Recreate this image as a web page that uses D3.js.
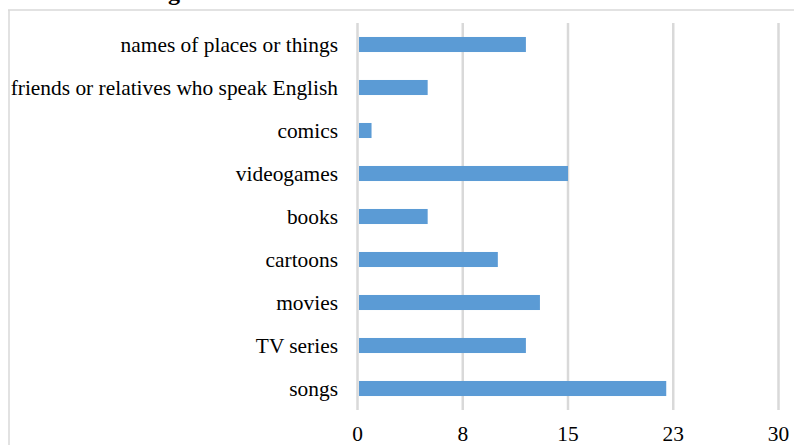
<!DOCTYPE html>
<html>
<head>
<meta charset="utf-8">
<script src="https://cdn.jsdelivr.net/npm/d3@7"></script>
<style>
  html, body { margin: 0; padding: 0; background: #fff; }
  svg { display: block; }
  text { font-family: "Liberation Serif", "Times New Roman", serif; fill: #000; }
</style>
</head>
<body>
<svg id="chart" width="794" height="445"></svg>
<script>
// Sources of English exposure (top to bottom)
const categories = [
  "names of places or things",
  "friends or relatives who speak English",
  "comics",
  "videogames",
  "books",
  "cartoons",
  "movies",
  "TV series",
  "songs"
];
const values = [12, 5, 1, 15, 5, 10, 13, 12, 22];
const tickValues = [0, 7.5, 15, 22.5, 30];
const tickLabels = ["0", "8", "15", "23", "30"];

const svg = d3.select("#chart");
const gridColor = "#d9d9d9";
const barColor = "#5b9bd5";

// chart frame (top and left edges visible)
svg.append("line")
  .attr("x1", 8).attr("x2", 794).attr("y1", 10).attr("y2", 10)
  .attr("stroke", gridColor).attr("stroke-width", 1.5);
svg.append("line")
  .attr("x1", 9).attr("x2", 9).attr("y1", 10).attr("y2", 445)
  .attr("stroke", gridColor).attr("stroke-width", 1.5);

// title, mostly above the visible area
svg.append("text")
  .attr("x", 168).attr("y", 0)
  .attr("font-weight", "bold").attr("font-size", 24)
  .text("g");

const x = d3.scaleLinear().domain([0, 30]).range([357.5, 778.5]);
const y = d3.scaleBand().domain(categories).range([23, 410]).paddingInner(0.65).paddingOuter(0.325);

// vertical gridlines
svg.append("g").selectAll("line")
  .data(tickValues)
  .join("line")
  .attr("x1", d => x(d)).attr("x2", d => x(d))
  .attr("y1", 23).attr("y2", 410)
  .attr("stroke", gridColor).attr("stroke-width", 2.5);

// bars
svg.append("g").selectAll("rect")
  .data(values)
  .join("rect")
  .attr("x", x(0) + 1.5)
  .attr("y", (d, i) => y(categories[i]))
  .attr("width", d => x(d) - x(0) - 1.5)
  .attr("height", y.bandwidth())
  .attr("fill", barColor);

// category labels
svg.append("g").selectAll("text")
  .data(categories)
  .join("text")
  .attr("x", 338)
  .attr("y", d => y(d) + y.bandwidth() / 2)
  .attr("dy", "0.33em")
  .attr("text-anchor", "end")
  .attr("font-size", 21.4)
  .text(d => d);

// value axis labels
svg.append("g").selectAll("text")
  .data(tickValues)
  .join("text")
  .attr("x", d => x(d))
  .attr("y", 441)
  .attr("text-anchor", "middle")
  .attr("font-size", 21.4)
  .text((d, i) => tickLabels[i]);
</script>
</body>
</html>
